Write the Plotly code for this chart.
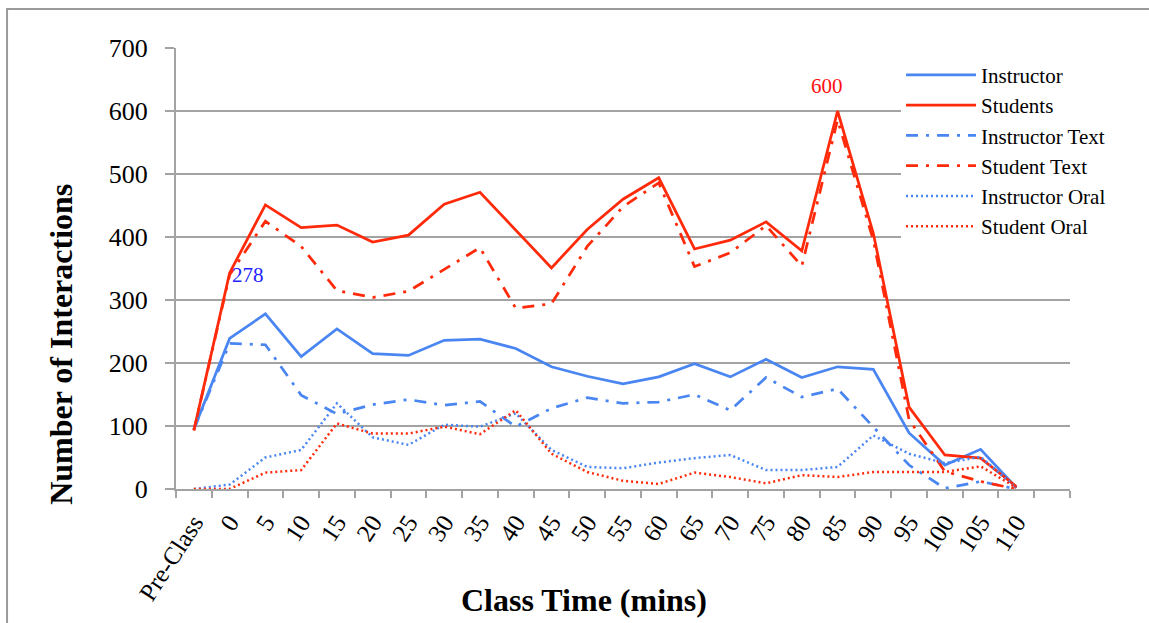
import plotly.graph_objects as go

labels = ["Pre-Class", "0", "5", "10", "15", "20", "25", "30", "35", "40", "45", "50",
          "55", "60", "65", "70", "75", "80", "85", "90", "95", "100", "105", "110"]

instructor = [95, 239, 278, 210, 254, 215, 212, 236, 238, 223, 194, 179,
              167, 178, 199, 178, 206, 177, 194, 190, 89, 38, 63, 2]
students = [93, 343, 451, 415, 419, 392, 403, 452, 471, 411, 351, 412,
            460, 494, 381, 395, 424, 378, 600, 406, 130, 54, 49, 4]
instructor_text = [95, 231, 229, 149, 119, 134, 142, 133, 139, 99, 128, 145,
                   136, 138, 150, 125, 177, 146, 159, 99, 38, 1, 12, 0]
student_text = [93, 340, 425, 385, 315, 304, 314, 349, 383, 287, 294, 385,
                448, 486, 353, 375, 418, 354, 586, 395, 110, 28, 12, 0]
instructor_oral = [0, 7, 50, 62, 136, 82, 70, 102, 99, 120, 62, 35,
                   33, 42, 49, 54, 30, 30, 35, 85, 56, 41, 51, 2]
student_oral = [0, 0, 26, 30, 104, 88, 88, 99, 87, 125, 56, 27,
                13, 8, 26, 19, 9, 22, 19, 27, 27, 27, 36, 2]

categories = labels + [" "]

BLUE = "#4A86F2"
RED = "#FF2A0A"
GRID = "#A3A3A3"
FONT = "Liberation Serif"
DASHDOT = "12px,8px,3px,8px"
DOT = "2px,3px"

series = [
    ("Instructor", instructor, BLUE, "solid", 2.75),
    ("Students", students, RED, "solid", 2.75),
    ("Instructor Text", instructor_text, BLUE, DASHDOT, 2.75),
    ("Student Text", student_text, RED, DASHDOT, 2.75),
    ("Instructor Oral", instructor_oral, BLUE, DOT, 2.5),
    ("Student Oral", student_oral, RED, DOT, 2.5),
]

fig = go.Figure()
for name, vals, color, dash, w in series:
    fig.add_trace(go.Scatter(x=labels, y=vals, name=name, mode="lines",
                             line=dict(color=color, dash=dash, width=w)))

# data labels (positioned at the data point's category index, shifted)
inst_i = instructor.index(max(instructor))
peak_i = students.index(max(students))
fig.add_annotation(x=inst_i, y=instructor[inst_i], text=str(instructor[inst_i]),
                   showarrow=False, xshift=-17, yshift=39,
                   xanchor="center", yanchor="middle",
                   font=dict(family=FONT, size=21, color="#1F1FFF"))
fig.add_annotation(x=peak_i, y=students[peak_i], text=str(students[peak_i]),
                   showarrow=False, xshift=-11, yshift=25,
                   xanchor="center", yanchor="middle",
                   font=dict(family=FONT, size=21, color="#FF1010"))

fig.add_annotation(xref="paper", yref="paper", x=0.456, y=-0.2517,
                   xanchor="center", yanchor="middle",
                   text="<b>Class Time (mins)</b>", showarrow=False,
                   font=dict(family=FONT, size=32, color="black"))
fig.add_annotation(xref="paper", yref="paper", x=-0.1287, y=0.329,
                   xanchor="center", yanchor="middle",
                   text="<b>Number of Interactions</b>", showarrow=False, textangle=-90,
                   font=dict(family=FONT, size=32, color="black"))

fig.add_shape(type="rect", xref="paper", yref="paper",
              x0=-0.189, x1=1.12, y0=-0.4, y1=1.0884,
              line=dict(color="#9A9A9A", width=2), fillcolor="rgba(0,0,0,0)", layer="below")

fig.update_layout(
    width=1149, height=623,
    margin=dict(l=176, r=79, t=48, b=134),
    paper_bgcolor="white", plot_bgcolor="white",
    font=dict(family=FONT, color="black"),
    showlegend=True,
    legend=dict(x=0.811, y=0.985, xanchor="left", yanchor="top",
                bgcolor="white", borderwidth=0,
                font=dict(family=FONT, size=21, color="black"),
                itemwidth=70, tracegroupgap=0),
    xaxis=dict(type="category", categoryorder="array", categoryarray=categories,
               range=[-0.5, len(categories) - 0.5], tickson="boundaries",
               ticks="outside", ticklen=7, tickwidth=2, tickcolor=GRID,
               showline=True, linecolor=GRID, linewidth=2, showgrid=False,
               ticklabelstandoff=7,
               tickangle=-57, tickfont=dict(family=FONT, size=25, color="black")),
    yaxis=dict(range=[0, 700], dtick=100, ticks="outside", ticklen=9, tickwidth=2,
               tickcolor=GRID, showline=True, linecolor=GRID, linewidth=2,
               showgrid=True, gridcolor=GRID, gridwidth=2, zeroline=False,
               ticklabelstandoff=12,
               tickfont=dict(family=FONT, size=26, color="black")),
)

fig.write_html("out.html")
